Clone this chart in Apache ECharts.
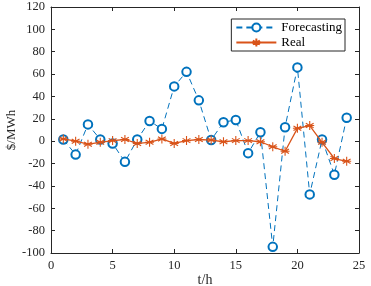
<!DOCTYPE html>
<html><head><meta charset="utf-8">
<script src="https://cdn.jsdelivr.net/npm/echarts@6/dist/echarts.min.js"></script>
<style>html,body{margin:0;padding:0;background:#fff}#c{width:371px;height:286px}</style>
</head><body><div id="c"></div>
<script>
var hours = [1,2,3,4,5,6,7,8,9,10,11,12,13,14,15,16,17,18,19,20,21,22,23,24];
var forecasting = [1.5,-12,15,1.5,-2,-18.5,1.5,18,11,49,62,36.5,1,17,19,-10.7,8,-94.5,12.5,66,-47.6,1.5,-30,21];
var real = [2,0,-2.7,-1,0.5,1.5,-2,-1,2,-2,0.5,1.5,1,-0.5,0.5,0.5,-0.5,-5,-9,11.5,14,-1,-15.5,-18];
var xTicks = [0,5,10,15,20,25];
var yTicks = [-100,-80,-60,-40,-20,0,20,40,60,80,100,120];

var F = 'Liberation Serif';
var blue = '#0072BD', orange = '#D95319';
var ast = 'path://M0,-10L0,10M-8.66,-5L8.66,5M-8.66,5L8.66,-5M-10,0L10,0';
function pairs(v){return hours.map(function(h,i){return [h,v[i]];});}

var chart = echarts.init(document.getElementById('c'), null, {renderer:'canvas'});
var axisCommon = {
  axisLine:{show:true,onZero:false,lineStyle:{color:'#262626',width:1}},
  axisTick:{show:true,inside:true,length:4,lineStyle:{color:'#262626'}},
  splitLine:{show:false}
};
chart.setOption({
  animation:false,
  grid:{left:51,right:12,top:7,bottom:33,containLabel:false,outerBoundsMode:'none'},
  legend:{
    right:26, top:19, orient:'vertical', itemGap:2, itemWidth:40, itemHeight:10,
    padding:[2,3,2,4], borderColor:'#262626', borderWidth:1, borderRadius:0, backgroundColor:'#fff',
    textStyle:{fontFamily:F,fontSize:13,color:'#000'},
    data:['Forecasting','Real']
  },
  xAxis:[
    Object.assign({type:'value',min:0,max:25,interval:5,position:'bottom',
      name:'t/h',nameLocation:'middle',nameGap:20,nameMoveOverlap:false,
      nameTextStyle:{fontFamily:F,fontSize:14,color:'#262626'},
      axisLabel:{fontFamily:F,fontSize:12.5,color:'#262626',margin:6,
        formatter:function(v){return xTicks.indexOf(v)>=0?String(v):'';}}},axisCommon),
    Object.assign({type:'value',min:0,max:25,interval:5,position:'top',axisLabel:{show:false}},axisCommon)
  ],
  yAxis:[
    Object.assign({type:'value',min:-100,max:120,interval:20,position:'left',
      name:'$/MWh',nameLocation:'middle',nameGap:33,nameRotate:90,nameMoveOverlap:false,
      nameTextStyle:{fontFamily:F,fontSize:13,color:'#262626'},
      axisLabel:{fontFamily:F,fontSize:12.5,color:'#262626',margin:6,
        formatter:function(v){return yTicks.indexOf(v)>=0?String(v):'';}}},axisCommon),
    Object.assign({type:'value',min:-100,max:120,interval:20,position:'right',axisLabel:{show:false}},axisCommon)
  ],
  series:[
    {name:'Forecasting',type:'line',data:pairs(forecasting),symbol:'emptyCircle',symbolSize:8.5,showAllSymbol:true,
      lineStyle:{color:blue,width:1,type:[6,4]},
      itemStyle:{color:blue,borderColor:blue,borderWidth:1},z:2},
    {name:'Real',type:'line',data:pairs(real),symbol:ast,symbolSize:9,showAllSymbol:true,
      lineStyle:{color:orange,width:1.3},
      itemStyle:{color:orange,borderColor:orange,borderWidth:1.1},z:3}
  ]
});
</script></body></html>
